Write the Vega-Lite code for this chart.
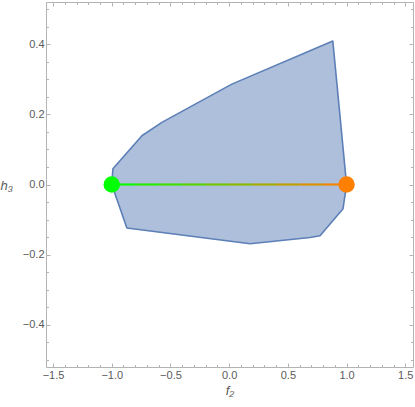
{
  "$schema": "https://vega.github.io/schema/vega-lite/v6.json",
  "width": 367,
  "height": 365,
  "autosize": "none",
  "padding": {"left": 46, "top": 2, "right": 2, "bottom": 40},
  "config": {
    "view": {"stroke": null},
    "axis": {
      "grid": false,
      "labelColor": "#5a5a5a",
      "labelFont": "Liberation Sans",
      "labelFontSize": 11,
      "domainColor": "#b3b3b3",
      "tickColor": "#b3b3b3",
      "titleColor": "#5a5a5a",
      "titleFont": "Liberation Sans",
      "titleFontWeight": "normal",
      "titleFontStyle": "italic",
      "titleFontSize": 13
    }
  },
  "datasets": {
    "poly": [
      {"i": 1, "x": -1.0, "y": 0.0},
      {"i": 2, "x": -0.99, "y": 0.045},
      {"i": 3, "x": -0.743, "y": 0.139},
      {"i": 4, "x": -0.573, "y": 0.177},
      {"i": 5, "x": 0.023, "y": 0.286},
      {"i": 6, "x": 0.883, "y": 0.409},
      {"i": 7, "x": 1.0, "y": 0.0},
      {"i": 8, "x": 0.97, "y": -0.069},
      {"i": 9, "x": 0.774, "y": -0.146},
      {"i": 10, "x": 0.689, "y": -0.151},
      {"i": 11, "x": 0.179, "y": -0.169},
      {"i": 12, "x": -0.871, "y": -0.124}
    ],
    "seg": [
      {"a": -1.0, "b": -0.8, "y": 0, "c": "#0df900"},
      {"a": -0.8, "b": -0.6, "y": 0, "c": "#26ec00"},
      {"a": -0.6, "b": -0.4, "y": 0, "c": "#40df00"},
      {"a": -0.4, "b": -0.2, "y": 0, "c": "#59d300"},
      {"a": -0.2, "b": 0.0, "y": 0, "c": "#73c600"},
      {"a": 0.0, "b": 0.2, "y": 0, "c": "#8cb900"},
      {"a": 0.2, "b": 0.4, "y": 0, "c": "#a6ac00"},
      {"a": 0.4, "b": 0.6, "y": 0, "c": "#bfa000"},
      {"a": 0.6, "b": 0.8, "y": 0, "c": "#d99300"},
      {"a": 0.8, "b": 1.0, "y": 0, "c": "#f28600"}
    ],
    "green": [{"x": -1, "y": 0}],
    "orange": [{"x": 1, "y": 0}]
  },
  "layer": [
    {
      "data": {"name": "poly"},
      "mark": {"type": "line", "interpolate": "linear-closed", "fill": "#aebfdb", "stroke": "#5b7fb6", "strokeWidth": 1.6, "strokeJoin": "round"},
      "encoding": {
        "x": {"field": "x", "type": "quantitative", "scale": {"domain": [-1.56, 1.566], "nice": false, "zero": false},
          "axis": {"orient": "bottom", "values": [-1.5, -1, -0.5, 0, 0.5, 1, 1.5], "format": ".1f", "tickSize": -4, "labelPadding": 6, "title": "f₂", "titlePadding": 4}},
        "y": {"field": "y", "type": "quantitative", "scale": {"domain": [-0.52, 0.52], "nice": false, "zero": false},
          "axis": {"orient": "left", "values": [-0.4, -0.2, 0, 0.2, 0.4], "format": ".1f", "tickSize": -4, "labelPadding": 6, "title": "h₃", "titleAngle": 0, "titleAlign": "left", "titleBaseline": "middle", "titleX": -46, "titleY": 183}},
        "order": {"field": "i", "type": "quantitative"}
      }
    },
    {
      "data": {"name": "seg"},
      "mark": {"type": "rule", "strokeWidth": 2.2},
      "encoding": {
        "x": {"field": "a", "type": "quantitative",
          "axis": {"orient": "bottom", "values": [-1.4, -1.3, -1.2, -1.1, -0.9, -0.8, -0.7, -0.6, -0.4, -0.3, -0.2, -0.1, 0.1, 0.2, 0.3, 0.4, 0.6, 0.7, 0.8, 0.9, 1.1, 1.2, 1.3, 1.4], "labels": false, "domain": false, "tickSize": -2.5, "title": null}},
        "x2": {"field": "b"},
        "y": {"field": "y", "type": "quantitative",
          "axis": {"orient": "left", "values": [-0.5, -0.45, -0.35, -0.3, -0.25, -0.15, -0.1, -0.05, 0.05, 0.1, 0.15, 0.25, 0.3, 0.35, 0.45, 0.5], "labels": false, "domain": false, "tickSize": -2.5, "title": null}},
        "color": {"field": "c", "type": "nominal", "scale": null}
      }
    },
    {
      "data": {"name": "green"},
      "mark": {"type": "circle", "size": 270, "opacity": 1, "color": "#00ff00"},
      "encoding": {
        "x": {"field": "x", "type": "quantitative",
          "axis": {"orient": "top", "values": [-1.5, -1, -0.5, 0, 0.5, 1, 1.5], "labels": false, "tickSize": -4, "title": null}},
        "y": {"field": "y", "type": "quantitative",
          "axis": {"orient": "right", "values": [-0.4, -0.2, 0, 0.2, 0.4], "labels": false, "tickSize": -4, "title": null}}
      }
    },
    {
      "data": {"name": "orange"},
      "mark": {"type": "circle", "size": 270, "opacity": 1, "color": "#ff8000"},
      "encoding": {
        "x": {"field": "x", "type": "quantitative",
          "axis": {"orient": "top", "values": [-1.4, -1.3, -1.2, -1.1, -0.9, -0.8, -0.7, -0.6, -0.4, -0.3, -0.2, -0.1, 0.1, 0.2, 0.3, 0.4, 0.6, 0.7, 0.8, 0.9, 1.1, 1.2, 1.3, 1.4], "labels": false, "domain": false, "tickSize": -2.5, "title": null}},
        "y": {"field": "y", "type": "quantitative",
          "axis": {"orient": "right", "values": [-0.5, -0.45, -0.35, -0.3, -0.25, -0.15, -0.1, -0.05, 0.05, 0.1, 0.15, 0.25, 0.3, 0.35, 0.45, 0.5], "labels": false, "domain": false, "tickSize": -2.5, "title": null}}
      }
    }
  ],
  "resolve": {"axis": {"x": "independent", "y": "independent"}}
}
